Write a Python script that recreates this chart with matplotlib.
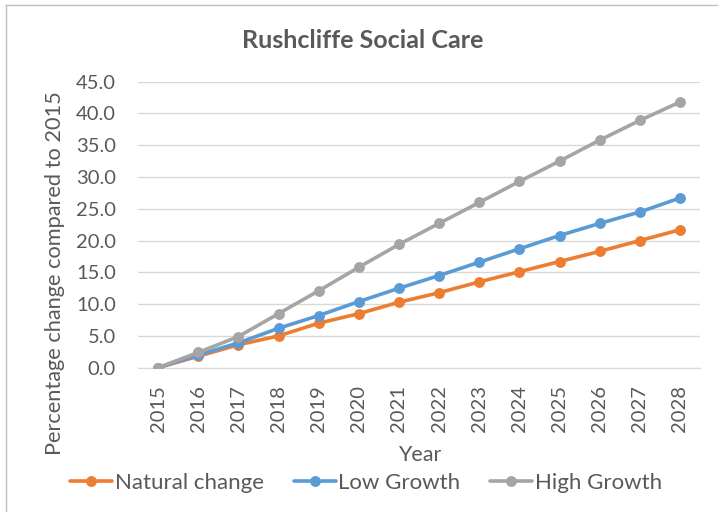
import numpy as np
import matplotlib
matplotlib.use("Agg")
import matplotlib.pyplot as plt
from matplotlib.lines import Line2D

plt.rcParams['font.family'] = ['Lato', 'DejaVu Sans']

# chart data
years = ['2015', '2016', '2017', '2018', '2019', '2020', '2021',
         '2022', '2023', '2024', '2025', '2026', '2027', '2028']
natural = [0, 1.8, 3.6, 5.0, 7.0, 8.5, 10.3, 11.8, 13.5, 15.1, 16.7, 18.3, 20.0, 21.7]
low = [0, 2.0, 3.9, 6.2, 8.2, 10.4, 12.5, 14.5, 16.6, 18.7, 20.8, 22.7, 24.5, 26.7]
high = [0, 2.4, 4.9, 8.5, 12.1, 15.8, 19.4, 22.7, 26.0, 29.3, 32.5, 35.8, 38.9, 41.8]
series_names = ['Natural change', 'Low Growth', 'High Growth']
yticks = np.arange(0, 46, 5)

colors = ['#ED7D31', '#5B9BD5', '#A5A5A5']
text_col = '#595959'
W, H = 718, 512

fig = plt.figure(figsize=(W / 100, H / 100), dpi=100)
ax = fig.add_axes([138 / W, 1 - 367.7 / H, 562 / W, 286 / H])

x = np.arange(len(years))
for vals, c, name in zip([natural, low, high], colors, series_names):
    ax.plot(x, vals, color=c, lw=2.6, marker='o', ms=6.8, label=name,
            solid_capstyle='round', zorder=3)

ax.set_xlim(-0.5, len(years) - 0.5)
ax.set_ylim(0, 45)
ax.set_yticks(yticks)
ax.set_yticklabels([f'{v:.1f}' for v in yticks])
ax.set_xticks(x)
ax.set_xticklabels(years, rotation=90)
ax.tick_params(axis='both', length=0, labelsize=14.5, labelcolor=text_col)
ax.tick_params(axis='y', pad=16)
ax.tick_params(axis='x', pad=12.5)
ax.grid(axis='y', color='#D9D9D9', lw=1)
ax.set_axisbelow(True)
for s in ['top', 'right', 'left']:
    ax.spines[s].set_visible(False)
ax.spines['bottom'].set_color('#D9D9D9')

fig.text(363 / W, 1 - 40 / H, 'Rushcliffe Social Care', ha='center', va='center',
         fontsize=18, fontweight='bold', color=text_col)
fig.text(420 / W, 1 - 455 / H, 'Year', ha='center', va='center',
         fontsize=15.5, color=text_col)
fig.text(55 / W, 1 - 273 / H, 'Percentage change compared to 2015', ha='center',
         va='center', rotation=90, fontsize=15.7, color=text_col)

fig.legend(loc='center', bbox_to_anchor=(366 / W, 1 - 483 / H), ncol=3,
           frameon=False, fontsize=16, labelcolor=text_col,
           handlelength=1.9, handletextpad=0.1, columnspacing=1.35)

# chart area border (cut at right and bottom like the screenshot)
fig.add_artist(Line2D([6 / W, 6 / W], [0, 1 - 5 / H], color='#BFBFBF', lw=1))
fig.add_artist(Line2D([6 / W, 1], [1 - 5 / H, 1 - 5 / H], color='#BFBFBF', lw=1))

fig.savefig('out.png', dpi=100)
